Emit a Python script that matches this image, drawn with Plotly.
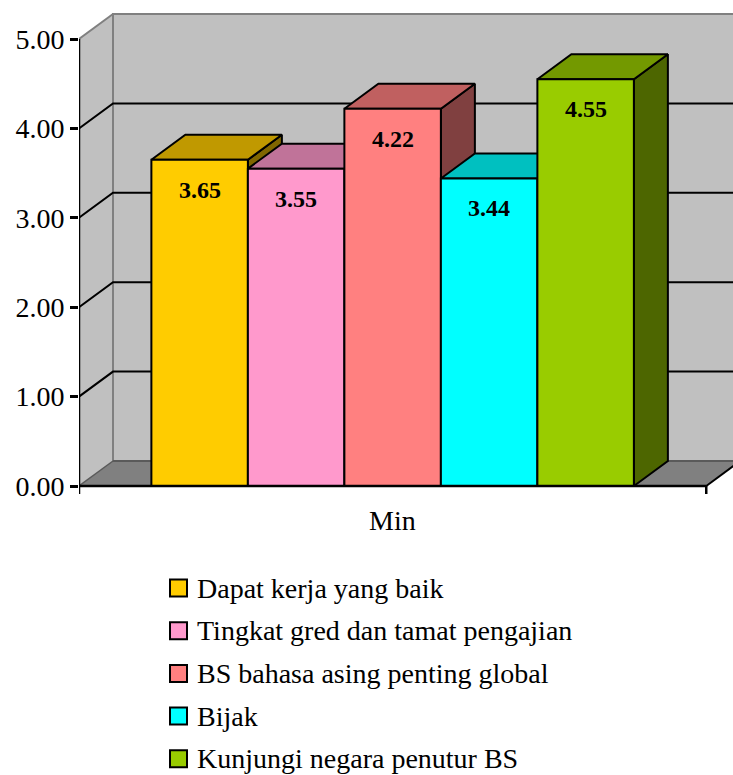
import plotly.graph_objects as go

# ---- data ----
categories = ["Dapat kerja yang baik", "Tingkat gred dan tamat pengajian",
              "BS bahasa asing penting global", "Bijak", "Kunjungi negara penutur BS"]
values = [3.65, 3.55, 4.22, 3.44, 4.55]
front_colors = ["#FFCC00", "#FF99CC", "#FF8080", "#00FFFF", "#99CC00"]
top_colors = ["#C09900", "#C07399", "#C06060", "#00C0C0", "#739900"]
side_colors = ["#806600", "#804D66", "#804040", "#008080", "#4D6600"]
y_ticks = [0, 1, 2, 3, 4, 5]
y_tick_labels = ["0.00", "1.00", "2.00", "3.00", "4.00", "5.00"]
x_label = "Min"

FONT = "'Times New Roman', 'Liberation Serif', Tinos, serif"

# ---- geometry (layout, in axis units) ----
W, H = 733, 775
ML, MT = 79, 0
PLOT_BOTTOM_PX = 500
PX_X = 96.5   # pixels per x unit (one bar width)
PX_Y = 89.4   # pixels per value unit
Y0_PX = 486
GAP = 0.75
XEND = GAP * 2 + len(values)
DX = 34 / PX_X
DY = 25 / PX_Y
YMAX_WALL = 5

x_range = [0, (W - ML) / PX_X]
y_range = [-(PLOT_BOTTOM_PX - Y0_PX) / PX_Y, (Y0_PX - MT) / PX_Y]

fig = go.Figure()


def poly(xs, ys, fill, line_color="black", width=2):
    fig.add_trace(go.Scatter(
        x=list(xs) + [xs[0]], y=list(ys) + [ys[0]], mode="lines", fill="toself",
        fillcolor=fill, line=dict(color=line_color, width=width),
        hoverinfo="skip", showlegend=False))


def seg(xs, ys, color="black", width=2):
    fig.add_trace(go.Scatter(x=xs, y=ys, mode="lines",
                             line=dict(color=color, width=width),
                             hoverinfo="skip", showlegend=False))


# back wall
poly([DX, XEND + DX + 1, XEND + DX + 1, DX], [DY, DY, YMAX_WALL + DY, YMAX_WALL + DY],
     "#C0C0C0", "#808080", 2)
# left wall
poly([0, DX, DX, 0], [0, DY, YMAX_WALL + DY, YMAX_WALL], "#C0C0C0", "rgba(0,0,0,0)", 0)
seg([0, DX], [YMAX_WALL, YMAX_WALL + DY], "#808080", 2)
seg([DX, DX], [DY, YMAX_WALL + DY], "#808080", 2)
# floor
poly([0, XEND, XEND + DX, DX], [0, 0, DY, DY], "#808080", "rgba(0,0,0,0)", 0)
seg([DX, XEND + DX + 1], [DY, DY], "#5A5A5A", 2)
seg([0, DX], [0, DY], "#5A5A5A", 1.5)
# gridlines
for v in y_ticks[1:-1]:
    seg([0, DX, XEND + DX + 1], [v, v + DY, v + DY], "black", 2)

# bars
for i, v in enumerate(values):
    x0 = GAP + i
    x1 = x0 + 1
    poly([x1, x1 + DX, x1 + DX, x1], [0, DY, v + DY, v], side_colors[i])
    poly([x0, x1, x1 + DX, x0 + DX], [v, v, v + DY, v + DY], top_colors[i])
    poly([x0, x1, x1, x0], [0, 0, v, v], front_colors[i])
    fig.add_annotation(x=(x0 + x1) / 2, y=v, xref="x", yref="y", text=f"<b>{v:.2f}</b>",
                       showarrow=False, yshift=-30,
                       font=dict(family=FONT, size=24, color="black"))

# front axis lines
seg([0, 0], [0, YMAX_WALL], "black", 2.5)
seg([0, XEND], [0, 0], "black", 2.5)
seg([XEND, XEND + DX], [0, DY], "black", 2)
tick_len = 8 / PX_Y
seg([0, 0], [0, -tick_len], "black", 2.5)
seg([XEND, XEND], [0, -tick_len], "black", 2.5)

# x label
plot_h = PLOT_BOTTOM_PX - MT
plot_w = W - ML


def px_to_paper(px, py):
    return (px - ML) / plot_w, (PLOT_BOTTOM_PX - py) / plot_h


lx, ly = px_to_paper(0, 520)
fig.add_annotation(x=XEND / 2, y=ly, xref="x", yref="paper", text=x_label, showarrow=False,
                   yanchor="middle", font=dict(family=FONT, size=28, color="black"))

# legend (manual)
for i, name in enumerate(categories):
    cy = 588 + 42.7 * i
    sx0, sy0 = px_to_paper(170, cy - 8.5)
    sx1, sy1 = px_to_paper(187, cy + 8.5)
    fig.add_shape(type="rect", xref="paper", yref="paper", x0=sx0, x1=sx1, y0=sy1, y1=sy0,
                  fillcolor=front_colors[i], line=dict(color="black", width=2))
    tx, ty = px_to_paper(195, cy)
    fig.add_annotation(x=tx, y=ty, xref="paper", yref="paper", text=name, showarrow=False,
                       xanchor="left", yanchor="middle",
                       font=dict(family=FONT, size=28, color="black"))

fig.update_layout(
    width=W, height=H, margin=dict(l=ML, r=0, t=MT, b=H - PLOT_BOTTOM_PX, pad=0),
    paper_bgcolor="white", plot_bgcolor="white", showlegend=False,
    font=dict(family=FONT),
    xaxis=dict(range=x_range, visible=False, fixedrange=True),
    yaxis=dict(range=y_range, tickvals=y_ticks, ticktext=y_tick_labels, showgrid=False,
               zeroline=False, showline=False, ticks="outside", ticklen=8, tickwidth=2.5,
               tickcolor="black", automargin=False, fixedrange=True,
               tickfont=dict(family=FONT, size=28, color="black")),
)

fig.write_html("out.html")
